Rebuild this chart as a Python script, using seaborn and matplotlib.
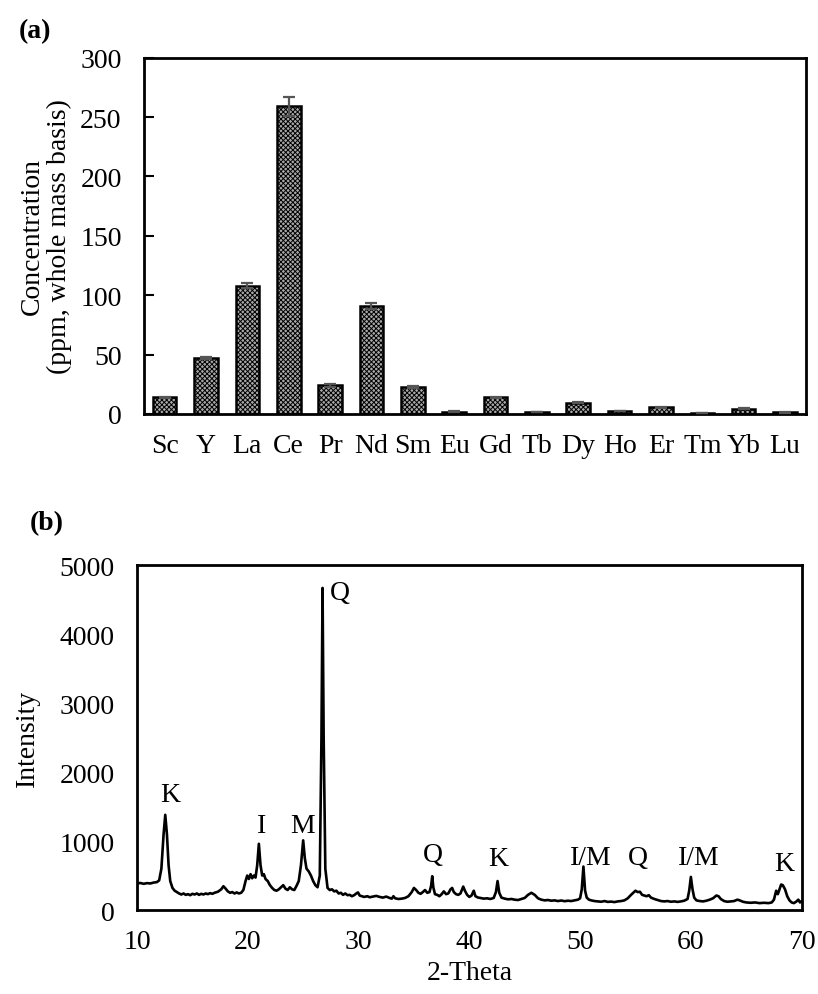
import matplotlib
matplotlib.use("Agg")
import matplotlib.pyplot as plt
import seaborn as sns
import pandas as pd

# Rare earth element concentrations (ppm, whole mass basis)
elements = ["Sc", "Y", "La", "Ce", "Pr", "Nd", "Sm", "Eu", "Gd", "Tb",
            "Dy", "Ho", "Er", "Tm", "Yb", "Lu"]
concentration = [14, 47, 108, 259, 24, 91, 22.5, 2, 14, 1.5,
                 9.5, 2.5, 5.5, 0.8, 4.5, 1.2]
conc_error = [0.6, 1.0, 2.0, 8.0, 1.0, 2.5, 1.0, 0.3, 0.6, 0.2,
              0.6, 0.3, 0.4, 0.1, 0.4, 0.2]

# XRD pattern (2-theta in degrees, intensity in counts)
two_theta = [
    10.0, 10.3, 10.6, 10.9, 11.2, 11.5, 11.8, 12.0, 12.2, 12.4,
    12.55, 12.7, 12.85, 13.0, 13.2, 13.4, 13.6, 13.8, 14.0, 14.2,
    14.4, 14.6, 14.8, 15.0, 15.2, 15.4, 15.6, 15.8, 16.0, 16.2,
    16.4, 16.6, 16.8, 17.0, 17.3, 17.6, 17.8, 18.0, 18.2, 18.4,
    18.6, 18.8, 19.0, 19.2, 19.4, 19.6, 19.8, 19.95, 20.1, 20.25,
    20.4, 20.55, 20.7, 20.85, 21.0, 21.15, 21.3, 21.45, 21.6, 21.8,
    22.0, 22.2, 22.4, 22.6, 22.8, 23.0, 23.2, 23.4, 23.6, 23.8,
    24.0, 24.2, 24.4, 24.6, 24.8, 25.0, 25.15, 25.3, 25.5, 25.7,
    25.9, 26.1, 26.3, 26.5, 26.65, 26.75, 26.85, 27.0, 27.2, 27.4,
    27.6, 27.8, 28.0, 28.2, 28.4, 28.6, 28.8, 29.0, 29.2, 29.4,
    29.6, 29.8, 29.95, 30.1, 30.3, 30.5, 30.8, 31.0, 31.3, 31.6,
    31.9, 32.2, 32.5, 32.8, 33.0, 33.15, 33.3, 33.6, 33.9, 34.2,
    34.5, 34.8, 35.0, 35.2, 35.4, 35.6, 35.8, 36.0, 36.2, 36.4,
    36.55, 36.65, 36.75, 36.9, 37.1, 37.3, 37.5, 37.7, 37.9, 38.1,
    38.3, 38.45, 38.6, 38.8, 39.0, 39.2, 39.45, 39.6, 39.8, 40.0,
    40.2, 40.4, 40.55, 40.8, 41.0, 41.3, 41.6, 41.9, 42.2, 42.4,
    42.55, 42.7, 42.9, 43.2, 43.5, 43.8, 44.1, 44.4, 44.7, 45.0,
    45.3, 45.6, 45.9, 46.2, 46.5, 46.8, 47.1, 47.4, 47.7, 48.0,
    48.3, 48.6, 48.9, 49.2, 49.5, 49.8, 50.0, 50.15, 50.3, 50.45,
    50.6, 50.8, 51.0, 51.3, 51.6, 51.9, 52.2, 52.5, 52.8, 53.1,
    53.4, 53.7, 54.0, 54.3, 54.6, 54.8, 55.0, 55.2, 55.4, 55.6,
    55.8, 56.0, 56.2, 56.4, 56.7, 57.0, 57.3, 57.6, 57.9, 58.2,
    58.5, 58.8, 59.1, 59.4, 59.7, 59.85, 60.0, 60.15, 60.3, 60.5,
    60.8, 61.1, 61.4, 61.7, 62.0, 62.3, 62.5, 62.7, 63.0, 63.3,
    63.6, 63.9, 64.2, 64.4, 64.7, 65.0, 65.4, 65.8, 66.2, 66.6,
    67.0, 67.3, 67.5, 67.7, 67.85, 68.0, 68.15, 68.3, 68.5, 68.7,
    68.9, 69.1, 69.3, 69.5, 69.7, 69.85, 70.0]
intensity = [
    385, 392, 380, 390, 385, 398, 405, 430, 600, 1100,
    1380, 1100, 650, 420, 320, 280, 260, 240, 225, 240,
    220, 230, 215, 235, 225, 240, 220, 235, 225, 240,
    230, 245, 235, 250, 265, 300, 345, 310, 270, 250,
    260, 240, 255, 240, 250, 290, 420, 500, 450, 520,
    460, 500, 470, 650, 960, 650, 500, 520, 450, 420,
    360, 320, 290, 280, 300, 330, 360, 310, 290, 330,
    300, 290, 350, 420, 650, 1010, 750, 600, 560, 500,
    420, 360, 330, 500, 2500, 4670, 2500, 600, 320, 290,
    300, 270, 280, 240, 250, 220, 240, 215, 220, 200,
    215, 240, 255, 210, 200, 190, 200, 185, 195, 205,
    190, 180, 195, 175, 165, 200, 170, 160, 165, 175,
    200, 260, 320, 290, 250, 235, 260, 290, 250, 260,
    350, 490, 330, 230, 220, 200, 230, 270, 230, 240,
    300, 320, 260, 230, 220, 240, 340, 280, 220, 190,
    210, 280, 200, 180, 175, 165, 170, 160, 175, 260,
    420, 250, 180, 165, 155, 160, 150, 145, 160, 175,
    220, 250, 220, 170, 150, 140, 145, 135, 140, 130,
    138, 128, 135, 130, 140, 150, 170, 300, 630, 280,
    180, 150, 140, 130, 125, 120, 130, 118, 122, 115,
    125, 130, 140, 170, 220, 250, 280, 260, 265, 220,
    210, 200, 215, 180, 160, 145, 130, 125, 130, 120,
    125, 118, 125, 135, 160, 280, 480, 300, 180, 140,
    130, 125, 135, 150, 170, 210, 200, 160, 130, 120,
    125, 130, 150, 140, 120, 110, 105, 110, 100, 105,
    100, 110, 150, 280, 230, 300, 370, 360, 300, 200,
    140, 110, 100, 120, 150, 110, 130]

# Phase annotations: label, 2-theta, intensity
phase_labels = ["K", "I", "M", "Q", "Q", "K", "I/M", "Q", "I/M", "K"]
phase_x = [13.0, 21.2, 24.9, 28.3, 36.75, 42.6, 51.0, 55.2, 60.7, 68.4]
phase_y = [1680, 1220, 1220, 4600, 810, 750, 760, 760, 760, 670]

sns.set_theme(style="white")
plt.rcParams["font.family"] = ["Liberation Serif", "DejaVu Serif"]
plt.rcParams["mathtext.fontset"] = "stix"
plt.rcParams["hatch.linewidth"] = 0.7
for key in ["text.color", "axes.labelcolor", "xtick.color", "ytick.color"]:
    plt.rcParams[key] = "black"

FS = 20
fig = plt.figure(figsize=(8.18, 9.95), dpi=100)
ax1 = fig.add_axes([0.176, 0.583, 0.809, 0.358])
ax2 = fig.add_axes([0.1675, 0.0844, 0.8125, 0.3466])

# (a) bar chart
df_bar = pd.DataFrame({"Element": elements, "Concentration": concentration})
sns.barplot(data=df_bar, x="Element", y="Concentration", ax=ax1,
            color="#a8a8a8", width=0.57, edgecolor="black", linewidth=1.8,
            errorbar=None, hatch="xxxxxxx")
ax1.errorbar(range(len(elements)), concentration, yerr=conc_error,
             fmt="none", ecolor="#555555", elinewidth=1.6, capsize=4.5,
             capthick=1.6, zorder=5)
ax1.set_ylim(0, 300)
ax1.set_xlim(-0.5, len(elements) - 0.5)
ax1.set_yticks(range(0, 301, 50))
ax1.set_xlabel("")
ax1.set_ylabel("Concentration\n(ppm, whole mass basis)", fontsize=FS,
               linespacing=1.1, labelpad=6)
ax1.tick_params(axis="y", direction="in", length=7, width=1.5,
                labelsize=FS, pad=16, left=True)
ax1.tick_params(axis="x", length=0, labelsize=FS, pad=14)
for side in ax1.spines.values():
    side.set_linewidth(2.0)
    side.set_color("black")
fig.text(0.043, 0.968, "(a)", fontsize=FS, fontweight="bold",
         ha="center", va="center")

# (b) XRD pattern
df_xrd = pd.DataFrame({"2-Theta": two_theta, "Intensity": intensity})
sns.lineplot(data=df_xrd, x="2-Theta", y="Intensity", ax=ax2,
             color="black", linewidth=1.9, sort=False)
for ln in ax2.get_lines():
    ln.set_solid_joinstyle("round")
ax2.set_xlim(10, 70)
ax2.set_ylim(0, 5000)
ax2.set_xticks(range(10, 71, 10))
ax2.set_yticks(range(0, 5001, 1000))
ax2.set_xlabel("2-Theta", fontsize=FS, labelpad=4)
ax2.set_ylabel("Intensity", fontsize=FS, labelpad=14)
ax2.tick_params(axis="both", length=0, labelsize=FS)
ax2.tick_params(axis="y", pad=16)
ax2.tick_params(axis="x", pad=14)
for side in ax2.spines.values():
    side.set_linewidth(2.0)
    side.set_color("black")
for lab, px, py in zip(phase_labels, phase_x, phase_y):
    ax2.text(px, py, lab, fontsize=FS, ha="center", va="center")
fig.text(0.057, 0.474, "(b)", fontsize=FS, fontweight="bold",
         ha="center", va="center")

fig.savefig("out.png", dpi=100)
